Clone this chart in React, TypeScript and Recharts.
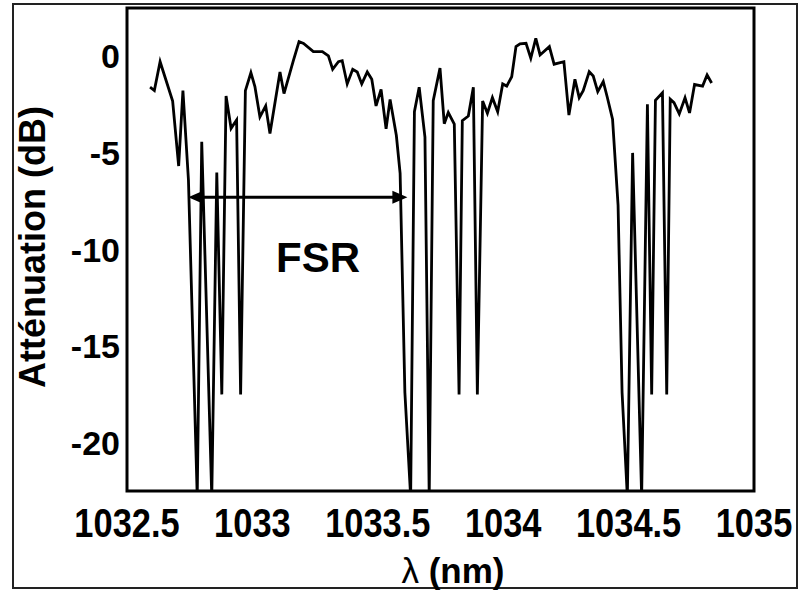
import React from "react";
import {
  LineChart,
  Line,
  XAxis,
  YAxis,
  ReferenceArea,
  ReferenceLine,
  ReferenceDot,
} from "recharts";

// wavelength (nm) and attenuation (dB)
const wavelengths = [
  1032.592, 1032.609, 1032.632, 1032.682, 1032.706, 1032.723, 1032.745, 1032.78,
  1032.798, 1032.838, 1032.858, 1032.878, 1032.895, 1032.915, 1032.937, 1032.953,
  1032.972, 1032.994, 1033.01, 1033.03, 1033.053, 1033.07, 1033.11, 1033.126,
  1033.163, 1033.186, 1033.204, 1033.243, 1033.279, 1033.303, 1033.32, 1033.343,
  1033.358, 1033.378, 1033.4, 1033.418, 1033.436, 1033.458, 1033.476, 1033.493,
  1033.513, 1033.533, 1033.549, 1033.574, 1033.589, 1033.608, 1033.631, 1033.646,
  1033.665, 1033.688, 1033.705, 1033.721, 1033.748, 1033.765, 1033.781, 1033.805,
  1033.824, 1033.837, 1033.861, 1033.881, 1033.897, 1033.918, 1033.937, 1033.957,
  1033.978, 1033.998, 1034.014, 1034.034, 1034.051, 1034.067, 1034.091, 1034.11,
  1034.13, 1034.147, 1034.184, 1034.203, 1034.242, 1034.262, 1034.286, 1034.303,
  1034.319, 1034.343, 1034.359, 1034.377, 1034.399, 1034.415, 1034.436, 1034.458,
  1034.474, 1034.495, 1034.516, 1034.552, 1034.575, 1034.592, 1034.607, 1034.635,
  1034.652, 1034.666, 1034.681, 1034.702, 1034.725, 1034.743, 1034.763, 1034.795,
  1034.813, 1034.831,
];

const attenuation = [
  -1.6, -1.77, -0.28, -2.32, -5.68, -1.78, -6.4, -22.8,
  -4.42, -22.8, -6.02, -17.5, -2.05, -3.73, -3.3, -17.5,
  -1.78, -0.85, -1.57, -3.14, -2.57, -4.0, -0.81, -1.93,
  -0.24, 0.76, 0.67, 0.24, 0.24, 0.02, -0.67, -0.28,
  -0.23, -1.43, -0.67, -0.81, -1.43, -0.81, -1.19, -2.57,
  -1.71, -3.75, -2.23, -4.1, -6.06, -17.4, -22.8, -2.87,
  -1.6, -4.18, -22.8, -2.3, -0.61, -3.49, -2.91, -3.51,
  -17.5, -3.33, -3.09, -1.6, -17.5, -2.31, -2.95, -2.14,
  -2.87, -1.43, -1.54, -1.06, 0.5, 0.64, 0.67, -0.1,
  0.93, 0.07, 0.5, -0.41, -0.28, -3.04, -1.19, -2.14,
  -1.78, -0.8, -1.02, -1.83, -1.31, -2.12, -3.25, -7.7,
  -17.4, -22.8, -5.0, -22.8, -2.48, -17.5, -2.28, -1.89,
  -17.5, -2.22, -2.4, -2.98, -2.15, -2.93, -1.46, -1.54,
  -0.97, -1.38,
];

const xTicks = [1032.5, 1033, 1033.5, 1034, 1034.5, 1035];
const innerXTicks = [1033, 1033.5, 1034, 1034.5];
const yTicks = [-20, -17.5, -15, -12.5, -10, -7.5, -5, -2.5, 0];

// FSR arrow: start / end wavelength and level, label position
const fsrStart = 1032.744;
const fsrEnd = 1033.618;
const fsrLevel = -7.3;
const fsrTextX = 1033.262;
const fsrTextY = -10.37;

const data = wavelengths.map((lambda, i) => ({ lambda, att: attenuation[i] }));

const FONT = "'Liberation Sans', Arial, Helvetica, sans-serif";
const tickStroke = { stroke: "#000", strokeWidth: 1.8 };

const XTick = (props: any) => {
  const { x, y, payload } = props;
  return (
    <g transform={`translate(${x},${y}) scale(0.84,1)`}>
      <text
        x={0}
        y={0}
        textAnchor="middle"
        fontSize={41}
        fontWeight="bold"
        fontFamily={FONT}
        fill="#000"
      >
        {String(payload.value)}
      </text>
    </g>
  );
};

const FsrArrow = (props: any) => {
  const { x1, y1, x2, y2 } = props;
  const head = 15;
  const half = 6.5;
  return (
    <g>
      <line x1={x1 + head - 2} y1={y1} x2={x2 - head + 2} y2={y2} stroke="#000" strokeWidth={3} />
      <polygon points={`${x1},${y1} ${x1 + head},${y1 - half} ${x1 + head},${y1 + half}`} fill="#000" />
      <polygon points={`${x2},${y2} ${x2 - head},${y2 - half} ${x2 - head},${y2 + half}`} fill="#000" />
    </g>
  );
};

const YLabel = () => (
  <text
    x={45}
    y={247}
    transform="rotate(-90, 45, 247)"
    textAnchor="middle"
    fontSize={36}
    fontWeight="bold"
    fontFamily={FONT}
    fill="#000"
  >
    Atténuation (dB)
  </text>
);

const XLabel = () => (
  <text x={453} y={583} textAnchor="middle" fontSize={35} fontFamily={FONT} fill="#000">
    <tspan>λ</tspan>
    <tspan fontWeight="bold"> (nm)</tspan>
  </text>
);

export default function App() {
  return (
    <div style={{ position: "absolute", left: 0, top: 0, width: 799, height: 590, background: "#fff" }}>
      <div
        style={{
          position: "absolute",
          left: 12,
          top: 3,
          width: 786,
          height: 586,
          border: "2px solid #222",
          boxSizing: "border-box",
        }}
      />
      <LineChart
        width={799}
        height={590}
        data={data}
        margin={{ top: 8, right: 45, bottom: 0, left: 0 }}
        style={{ position: "absolute", left: 0, top: 0 }}
      >
        <XAxis
          dataKey="lambda"
          type="number"
          domain={[1032.5, 1035]}
          allowDataOverflow
          ticks={xTicks}
          interval={0}
          height={99}
          axisLine={false}
          tickLine={false}
          tickSize={0}
          tickMargin={46}
          tick={<XTick />}
          label={XLabel}
        />
        <XAxis
          xAxisId="bottomTicks"
          orientation="bottom"
          mirror
          type="number"
          domain={[1032.5, 1035]}
          allowDataOverflow
          ticks={innerXTicks}
          interval={0}
          axisLine={false}
          tick={false}
          tickLine={tickStroke}
          tickSize={6}
        />
        <XAxis
          xAxisId="top"
          orientation="top"
          mirror
          type="number"
          domain={[1032.5, 1035]}
          allowDataOverflow
          ticks={innerXTicks}
          interval={0}
          axisLine={false}
          tick={false}
          tickLine={tickStroke}
          tickSize={5}
        />
        <YAxis
          type="number"
          domain={[-22.5, 2.5]}
          allowDataOverflow
          ticks={yTicks}
          interval={0}
          width={127}
          axisLine={false}
          tickLine={false}
          tickSize={0}
          tickMargin={7}
          tickFormatter={(v: number) => (v % 5 === 0 ? String(v) : "")}
          tick={{ fontSize: 34, fontWeight: "bold", fill: "#000", fontFamily: FONT }}
          label={YLabel}
        />
        <YAxis
          yAxisId="leftTicks"
          orientation="left"
          mirror
          type="number"
          domain={[-22.5, 2.5]}
          allowDataOverflow
          ticks={yTicks}
          interval={0}
          axisLine={false}
          tick={false}
          tickLine={tickStroke}
          tickSize={6}
        />
        <YAxis
          yAxisId="right"
          orientation="right"
          mirror
          type="number"
          domain={[-22.5, 2.5]}
          allowDataOverflow
          ticks={yTicks}
          interval={0}
          axisLine={false}
          tick={false}
          tickLine={tickStroke}
          tickSize={6}
        />
        <Line
          dataKey="att"
          type="linear"
          stroke="#000"
          strokeWidth={2.8}
          dot={false}
          isAnimationActive={false}
        />
        <ReferenceLine
          segment={[
            { x: fsrStart, y: fsrLevel },
            { x: fsrEnd, y: fsrLevel },
          ]}
          shape={FsrArrow}
        />
        <ReferenceDot
          x={fsrTextX}
          y={fsrTextY}
          r={0}
          fill="none"
          stroke="none"
          label={{
            value: "FSR",
            position: "center",
            fontSize: 42,
            fontWeight: "bold",
            fill: "#000",
            fontFamily: FONT,
          }}
        />
        <ReferenceArea
          x1={1032.5}
          x2={1035}
          y1={-22.5}
          y2={2.5}
          fill="none"
          stroke="#000"
          strokeWidth={3}
        />
      </LineChart>
    </div>
  );
}
